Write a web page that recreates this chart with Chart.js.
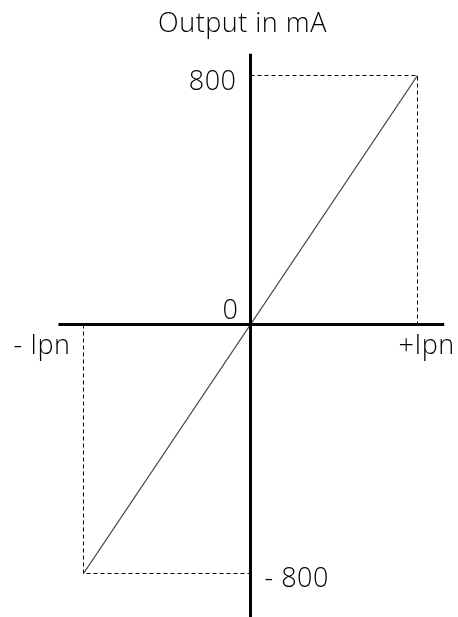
<!DOCTYPE html>
<html>
<head>
<meta charset="utf-8">
<script src="https://cdn.jsdelivr.net/npm/chart.js@4.4.1/dist/chart.umd.min.js"></script>
<style>
  html, body { margin: 0; padding: 0; background: #fff; }
  #wrap { width: 458px; height: 617px; position: relative; }
</style>
</head>
<body>
<div id="wrap"><canvas id="chart"></canvas></div>
<script>
// input current (in units of Ipn) vs output in mA
const inputPoints = [-1, 1];
const outputValues = [-800, 800];
const xLabels = ['- Ipn', '+Ipn'];
const yLabels = ['800', '0', '- 800'];
const titleText = 'Output in mA';

// axis extents (data units)
const xAxisRange = [-1.15, 1.16];
const yAxisRange = [870, -1000];

const FONT = '"Open Sans", sans-serif';

const labelPlugin = {
    id: 'labels',
    afterDatasetsDraw(chart) {
        const ctx = chart.ctx;
        const xs = chart.scales.x, ys = chart.scales.y;
        const x0 = xs.getPixelForValue(0), y0 = ys.getPixelForValue(0);
        const xl = xs.getPixelForValue(inputPoints[0]), xr = xs.getPixelForValue(inputPoints[1]);
        ctx.save();
        ctx.fillStyle = '#000';
        ctx.font = '300 27px ' + FONT;
        ctx.letterSpacing = '0.5px';
        ctx.textBaseline = 'alphabetic';

        ctx.textAlign = 'center';
        ctx.fillText(titleText, x0 - 8, 32);

        ctx.textAlign = 'right';
        ctx.fillText(yLabels[0], x0 - 14, ys.getPixelForValue(outputValues[1]) + 14);
        ctx.fillText(yLabels[1], x0 - 12, y0 - 5);
        ctx.textAlign = 'left';
        ctx.fillText(yLabels[2], x0 + 14, ys.getPixelForValue(outputValues[0]) + 14);

        ctx.textAlign = 'right';
        ctx.fillText(xLabels[0], xl - 13, y0 + 30);
        ctx.textAlign = 'left';
        ctx.fillText(xLabels[1], xr - 19, y0 + 30);
        ctx.restore();
    }
};

const dashStyle = {
    borderColor: '#000',
    borderWidth: 1,
    borderDash: [4, 3],
    pointRadius: 0,
    fill: false,
    showLine: true
};

new Chart(document.getElementById('chart'), {
    type: 'scatter',
    data: {
        datasets: [
            {
                data: [{ x: 0, y: outputValues[1] }, { x: inputPoints[1], y: outputValues[1] }, { x: inputPoints[1], y: 0 }],
                ...dashStyle
            },
            {
                data: [{ x: inputPoints[0], y: 0 }, { x: inputPoints[0], y: outputValues[0] }, { x: 0, y: outputValues[0] }],
                ...dashStyle
            },
            {
                // x axis
                data: [{ x: xAxisRange[0], y: 0 }, { x: xAxisRange[1], y: 0 }],
                borderColor: '#000', borderWidth: 3, pointRadius: 0, showLine: true
            },
            {
                // y axis
                data: [{ x: 0, y: yAxisRange[0] }, { x: 0, y: yAxisRange[1] }],
                borderColor: '#000', borderWidth: 3, pointRadius: 0, showLine: true
            },
            {
                // transfer line
                data: inputPoints.map((x, i) => ({ x: x, y: outputValues[i] })),
                borderColor: '#444', borderWidth: 1.3, pointRadius: 0, showLine: true
            }
        ]
    },
    options: {
        responsive: true,
        maintainAspectRatio: false,
        animation: false,
        layout: { padding: 0 },
        plugins: { legend: { display: false }, tooltip: { enabled: false } },
        scales: {
            x: { type: 'linear', display: false, min: -1.5, max: 1.24251 },
            y: { type: 'linear', display: false, min: -939.8, max: 1042.6 }
        }
    },
    plugins: [labelPlugin]
});
</script>
</body>
</html>
